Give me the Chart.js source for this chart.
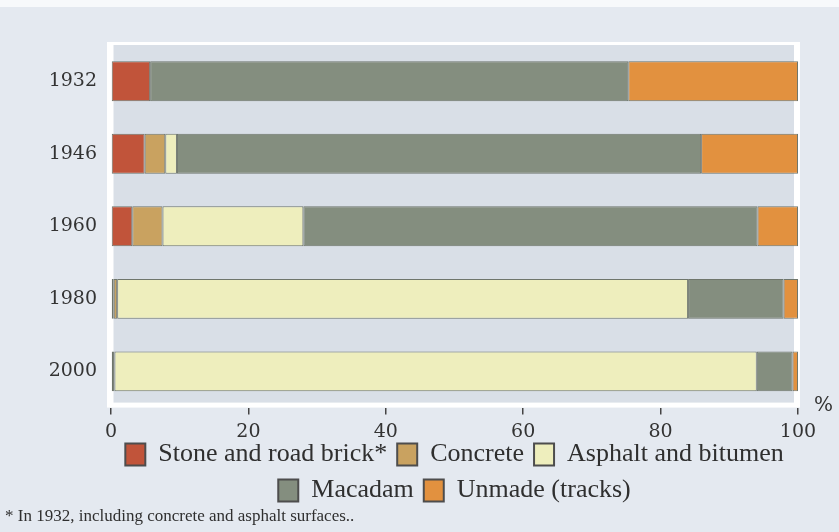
<!DOCTYPE html>
<html>
<head>
<meta charset="utf-8">
<script src="https://cdn.jsdelivr.net/npm/chart.js@4/dist/chart.umd.min.js"></script>
<style>
  html, body { margin: 0; padding: 0; background: #e4e9f0; }
  #c { display: block; }
</style>
</head>
<body>
<canvas id="c" width="839" height="532"></canvas>
<script>
// Road surface shares (percent of network) by year
const years = ['1932', '1946', '1960', '1980', '2000'];
const stone    = [5.7, 4.9, 3.1, 0.4, 0.3];
const concrete = [null, 3.0, 4.4, 0.5, 0.2];
const asphalt  = [null, 1.7, 20.5, 83.1, 93.5];
const macadam  = [69.6, 76.3, 66.1, 13.9, 5.2];
const unmade   = [24.7, 14.1, 5.9, 2.1, 0.8];
const xTicks   = [0, 20, 40, 60, 80, 100];

const seriesNames = ['Stone and road brick*', 'Concrete', 'Asphalt and bitumen', 'Macadam', 'Unmade (tracks)'];
const seriesColors = ['#c1543a', '#c9a260', '#eeeebd', '#848e7f', '#e2913f'];
const footnote = '* In 1932, including concrete and asphalt surfaces..';

const seriesData = [stone, concrete, asphalt, macadam, unmade];

// Page background, white frame and shaded plot panel, plus the unit mark
const framePlugin = {
  id: 'frame',
  beforeDraw(chart) {
    const { ctx, chartArea: a, width, height } = chart;
    ctx.save();
    ctx.fillStyle = '#e4e9f0';
    ctx.fillRect(0, 0, width, height);
    ctx.fillStyle = '#f7f9fb';
    ctx.fillRect(0, 0, width, 7);
    ctx.fillStyle = '#ffffff';
    ctx.fillRect(a.left - 4, a.top - 3, a.width + 6, a.height + 3);
    ctx.fillStyle = '#d9dfe7';
    ctx.fillRect(a.left + 2.5, a.top, a.width - 6.5, a.height - 5);
    ctx.restore();
  },
  afterDraw(chart) {
    const { ctx, chartArea: a } = chart;
    ctx.save();
    ctx.fillStyle = '#333333';
    ctx.font = '20px "DejaVu Serif"';
    ctx.textAlign = 'left';
    ctx.textBaseline = 'middle';
    ctx.fillText('%', a.right + 16, a.bottom - 2);
    ctx.restore();
  }
};

new Chart(document.getElementById('c'), {
  type: 'bar',
  data: {
    labels: years,
    datasets: seriesNames.map((name, i) => ({
      label: name,
      data: seriesData[i],
      backgroundColor: seriesColors[i],
      borderColor: '#6f766c',
      borderWidth: 1,
      borderSkipped: false,
      barPercentage: 0.55,
      categoryPercentage: 1.0
    }))
  },
  options: {
    indexAxis: 'y',
    responsive: false,
    animation: false,
    layout: { padding: { left: 5, right: 41, top: 45, bottom: 0 } },
    scales: {
      x: {
        stacked: true,
        min: 0,
        max: 100,
        afterBuildTicks(scale) { scale.ticks = xTicks.map(v => ({ value: v })); },
        afterFit(scale) {
          // compact axis box; the tick labels may run into the legend's top margin
          scale.height = 24;
          scale._computeLabelArea = () => undefined;
        },
        grid: { drawOnChartArea: false, drawTicks: true, tickLength: 7, color: '#444444', lineWidth: 1.5 },
        border: { display: false },
        ticks: { padding: 6, color: '#333333', font: { family: 'DejaVu Serif', size: 19 } }
      },
      y: {
        stacked: true,
        afterFit(scale) { scale.width = 106; },
        grid: { display: false, drawTicks: false },
        border: { display: false },
        ticks: { padding: 14, color: '#333333', font: { family: 'DejaVu Serif', size: 19 } }
      }
    },
    plugins: {
      tooltip: { enabled: false },
      legend: {
        position: 'bottom',
        fullSize: false,
        maxHeight: 75,
        labels: {
          boxWidth: 20,
          boxHeight: 22,
          padding: 10,
          color: '#2f2f2f',
          font: { family: 'Liberation Serif', size: 26 },
          generateLabels(chart) {
            return Chart.defaults.plugins.legend.labels.generateLabels(chart).map(l => {
              l.strokeStyle = '#4d4d4d';
              l.lineWidth = 2;
              return l;
            });
          }
        }
      },
      subtitle: {
        display: true,
        text: footnote,
        position: 'bottom',
        align: 'start',
        color: '#2f2f2f',
        font: { family: 'Liberation Serif', size: 17, weight: 'normal' },
        padding: { top: 0, bottom: 5 }
      }
    }
  },
  plugins: [framePlugin]
});
</script>
</body>
</html>
